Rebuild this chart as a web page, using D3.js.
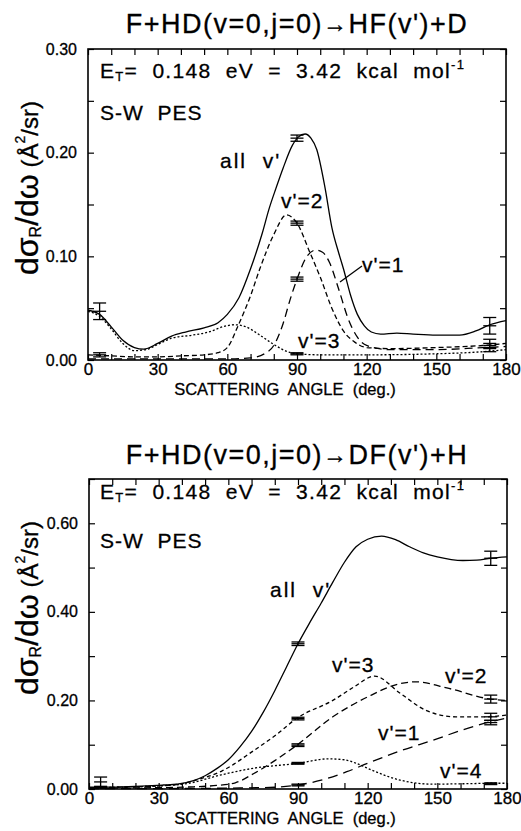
<!DOCTYPE html>
<html>
<head>
<meta charset="utf-8">
<script src="https://cdn.jsdelivr.net/npm/d3@7"></script>
<style>
  body { margin: 0; background: #fff; }
  text { font-family: "Liberation Sans", Arial, sans-serif; fill: #000; stroke: #000; stroke-width: 0.3px; white-space: pre; }
</style>
</head>
<body>
<div id="plot"></div>
<script>
// [angle (deg), dσ/dω]

// top panel: F + HD -> HF(v') + D
const hfAll = [[0,0.048],[5,0.044],[10,0.032],[15,0.019],[20,0.012],[24,0.0105],[30,0.016],[36,0.023],[42,0.027],[50,0.031],[56,0.036],[60,0.044],[65,0.06],[70,0.088],[75,0.122],[78,0.146],[81,0.166],[84,0.185],[88,0.207],[90.5,0.215],[93.5,0.218],[96,0.214],[98.5,0.203],[102,0.167],[105,0.128],[108,0.103],[110,0.088],[113,0.063],[116,0.044],[119,0.033],[122,0.027],[126,0.025],[133,0.026],[140,0.025],[150,0.024],[160,0.024],[167,0.028],[173,0.034],[180,0.038]];
const hfV1 = [[0,0.001],[20,0.001],[40,0.001],[60,0.001],[70,0.002],[76,0.006],[80,0.014],[84,0.035],[87,0.058],[90,0.078],[94,0.099],[98,0.106],[101,0.104],[104,0.094],[108,0.068],[112,0.04],[116,0.022],[120,0.014],[130,0.010],[150,0.010],[170,0.012],[180,0.013]];
const hfV2 = [[0,0.005],[10,0.004],[20,0.003],[30,0.003],[40,0.004],[50,0.005],[56,0.007],[60,0.012],[65,0.035],[70,0.062],[74,0.088],[80,0.121],[85.5,0.14],[90,0.132],[95.5,0.104],[100,0.08],[105,0.05],[110,0.028],[115,0.017],[120,0.012],[130,0.011],[150,0.012],[170,0.014],[180,0.016]];
const hfV3 = [[0,0.047],[5,0.042],[10,0.03],[15,0.016],[20,0.009],[25,0.01],[30,0.015],[36,0.021],[45,0.024],[52,0.027],[58,0.032],[63,0.034],[68,0.032],[74,0.024],[80,0.015],[86,0.008],[90,0.006],[100,0.005],[120,0.005],[150,0.006],[170,0.008],[180,0.01]];
// [angle, value, half-width]
const hfErrors = [[5,0.047,0.008],[5,0.005,0.002],[90,0.214,0.003],[90,0.132,0.002],[90,0.078,0.002],[90,0.006,0.001],[173,0.033,0.008],[173,0.016,0.004],[173,0.011,0.003]];

// bottom panel: F + HD -> DF(v') + H
const dfAll = [[0,0.004],[14,0.005],[25,0.007],[32,0.009],[38,0.011],[45,0.019],[50,0.03],[55,0.046],[60,0.066],[65,0.095],[70,0.13],[75,0.173],[80,0.222],[85,0.275],[90,0.328],[95,0.375],[100,0.42],[105,0.467],[110,0.512],[115,0.547],[120,0.564],[126,0.571],[132,0.563],[138,0.547],[144,0.533],[150,0.524],[156,0.518],[161,0.516],[167,0.517],[173,0.521],[180,0.524]];
const dfV1 = [[0,0.001],[30,0.001],[60,0.002],[80,0.004],[90,0.009],[100,0.02],[111,0.039],[120,0.058],[134,0.086],[148,0.11],[163,0.137],[173,0.152],[180,0.16]];
const dfV2 = [[0,0.002],[30,0.003],[45,0.005],[55,0.008],[63,0.014],[71,0.035],[80,0.064],[89,0.097],[105,0.163],[120,0.208],[134,0.238],[141,0.242],[155,0.227],[173,0.203],[180,0.2]];
const dfV3 = [[0,0.003],[30,0.007],[40,0.012],[46,0.02],[57,0.04],[71,0.087],[81,0.124],[89,0.158],[105,0.2],[114,0.23],[123,0.255],[134,0.216],[145,0.178],[158,0.163],[170,0.163],[180,0.167]];
const dfV4 = [[0,0.003],[30,0.007],[43,0.013],[57,0.032],[71,0.047],[90,0.058],[103,0.068],[110,0.066],[116,0.056],[122,0.042],[134,0.02],[148,0.011],[163,0.012],[173,0.013],[180,0.013]];
const dfErrors = [[5,0.016,0.011],[5,0.004,0.002],[90,0.328,0.004],[90,0.159,0.003],[90,0.099,0.003],[90,0.058,0.002],[90,0.009,0.002],[173,0.521,0.016],[173,0.203,0.009],[173,0.163,0.008],[173,0.15,0.005],[173,0.012,0.002]];

const xTicks = d3.range(0, 181, 10);
const xLabels = [0, 30, 60, 90, 120, 150, 180];

const w = 521, h = 831;
const svg = d3.select("#plot").append("svg")
    .attr("width", w)
    .attr("height", h);

function panel(p) {
  const x = d3.scaleLinear().domain([0, 180]).range([p.left, p.right]);
  const y = d3.scaleLinear().domain([0, p.ymax]).range([p.bottom, p.top]);
  const g = svg.append("g");

  // title
  const t = g.append("text")
      .attr("x", 297).attr("y", p.titleY)
      .attr("text-anchor", "middle")
      .style("font-size", "27px").style("letter-spacing", "1.5px");
  t.append("tspan").text("F+HD(v=0,j=0)");
  t.append("tspan").style("font-size", "24px").attr("dy", -1).text("→");
  t.append("tspan").attr("dy", 1).text(p.product);

  // axes, ticks inside
  const fmtX = d => xLabels.includes(d) ? d : "";
  g.append("g").attr("transform", `translate(0,${p.bottom})`)
      .call(d3.axisBottom(x).tickValues(xTicks).tickSize(-6).tickSizeOuter(0).tickPadding(3).tickFormat(fmtX));
  g.append("g").attr("transform", `translate(0,${p.top})`)
      .call(d3.axisTop(x).tickValues(xTicks).tickSize(-6).tickSizeOuter(0).tickFormat(""));
  g.append("g").attr("class", "yleft").attr("transform", `translate(${p.left},0)`)
      .call(d3.axisLeft(y).tickValues(p.yTicks).tickSize(-6).tickSizeOuter(0).tickPadding(11)
        .tickFormat(d => p.yLabels.includes(d) ? d.toFixed(2) : ""));
  g.append("g").attr("transform", `translate(${p.right},0)`)
      .call(d3.axisRight(y).tickValues(p.yTicks).tickSize(-6).tickSizeOuter(0).tickFormat(""));
  g.selectAll(".domain").remove();
  g.selectAll(".tick line").attr("stroke", "#000").attr("stroke-width", 1.2);
  g.selectAll(".tick text").style("font-size", "17px")
      .style("font-family", "\"Liberation Sans\", Arial, sans-serif");
  g.selectAll(".yleft .tick text").style("font-size", "16px");

  g.append("rect")
      .attr("x", p.left).attr("y", p.top)
      .attr("width", p.right - p.left).attr("height", p.bottom - p.top)
      .attr("fill", "none").attr("stroke", "#000").attr("stroke-width", 1.6);

  // curves
  const line = d3.line().x(d => x(d[0])).y(d => y(d[1])).curve(d3.curveMonotoneX);
  p.series.forEach(s => {
    g.append("path").datum(s.data)
        .attr("d", line)
        .attr("fill", "none")
        .attr("stroke", "#000")
        .attr("stroke-width", 1.3)
        .attr("stroke-dasharray", s.dash);
  });

  // error bars
  const eb = g.append("g").attr("stroke", "#000").attr("stroke-width", 1.3);
  p.errors.forEach(e => {
    const cx = x(e[0]);
    eb.append("line").attr("x1", cx).attr("x2", cx).attr("y1", y(e[1] - e[2])).attr("y2", y(e[1] + e[2]));
    [e[1] - e[2], e[1], e[1] + e[2]].forEach(v => {
      eb.append("line").attr("x1", cx - 6.5).attr("x2", cx + 6.5).attr("y1", y(v)).attr("y2", y(v));
    });
  });

  // annotations
  const et = g.append("text").attr("x", 100).attr("y", p.etY)
      .style("font-size", "21px").style("letter-spacing", "1.3px");
  et.append("tspan").text("E");
  et.append("tspan").style("font-size", "13px").attr("dy", 3).text("T");
  et.append("tspan").attr("dy", -3).text("=  0.148  eV  =  3.42  kcal  mol");
  et.append("tspan").style("font-size", "13px").attr("dy", -9).text("-1");
  g.append("text").attr("x", 100).attr("y", p.pesY)
      .style("font-size", "21px").style("letter-spacing", "1px")
      .text("S-W  PES");

  p.labels.forEach(l => {
    g.append("text").attr("x", l[0]).attr("y", l[1])
        .style("font-size", "21px")
        .style("letter-spacing", l[3] || "1px").text(l[2]);
  });
  if (p.leader) {
    g.append("line").attr("x1", p.leader[0]).attr("y1", p.leader[1])
        .attr("x2", p.leader[2]).attr("y2", p.leader[3])
        .attr("stroke", "#000").attr("stroke-width", 1.2);
  }

  // x axis title
  g.append("text").attr("x", 285).attr("y", p.bottom + 35)
      .attr("text-anchor", "middle")
      .style("font-size", "16.5px").text("SCATTERING  ANGLE  (deg.)");

  // y axis title
  const yt = g.append("text")
      .attr("transform", `translate(38,${p.ylabY}) rotate(-90)`)
      .attr("text-anchor", "middle")
      .style("font-size", "32px");
  yt.append("tspan").text("dσ");
  yt.append("tspan").style("font-size", "16px").attr("dy", 3).text("R");
  yt.append("tspan").attr("dy", -3).text("/dω");
  yt.append("tspan").style("font-size", "24px").text(" (Å");
  yt.append("tspan").style("font-size", "14px").attr("dy", -13).text("2");
  yt.append("tspan").style("font-size", "24px").attr("dy", 13).text("/sr)");
}

panel({
  left: 88, right: 506, top: 49, bottom: 360, ymax: 0.3,
  titleY: 33, product: "HF(v')+D", ylabY: 188,
  yTicks: d3.range(0, 0.301, 0.05).map(v => +v.toFixed(2)),
  yLabels: [0, 0.1, 0.2, 0.3],
  etY: 78, pesY: 120,
  series: [
    {data: hfAll, dash: null},
    {data: hfV1, dash: "8,5"},
    {data: hfV2, dash: "5,3"},
    {data: hfV3, dash: "2,2"}
  ],
  errors: hfErrors,
  labels: [[220, 168, "all  v'", "2px"], [281, 208, "v'=2"], [362, 272, "v'=1"], [298, 348, "v'=3"]],
  leader: [340, 282, 362, 266]
});

panel({
  left: 89, right: 507, top: 479, bottom: 789, ymax: 0.7,
  titleY: 464, product: "DF(v')+H", ylabY: 608,
  yTicks: d3.range(0, 0.701, 0.1).map(v => +v.toFixed(1)),
  yLabels: [0, 0.2, 0.4, 0.6],
  etY: 499, pesY: 548,
  series: [
    {data: dfAll, dash: null},
    {data: dfV1, dash: "10,6"},
    {data: dfV2, dash: "7,4"},
    {data: dfV3, dash: "4,3"},
    {data: dfV4, dash: "2,2"}
  ],
  errors: dfErrors,
  labels: [[270, 597, "all  v'", "2px"], [332, 672, "v'=3"], [445, 683, "v'=2"], [378, 740, "v'=1"], [440, 778, "v'=4"]],
  leader: null
});
</script>
</body>
</html>
